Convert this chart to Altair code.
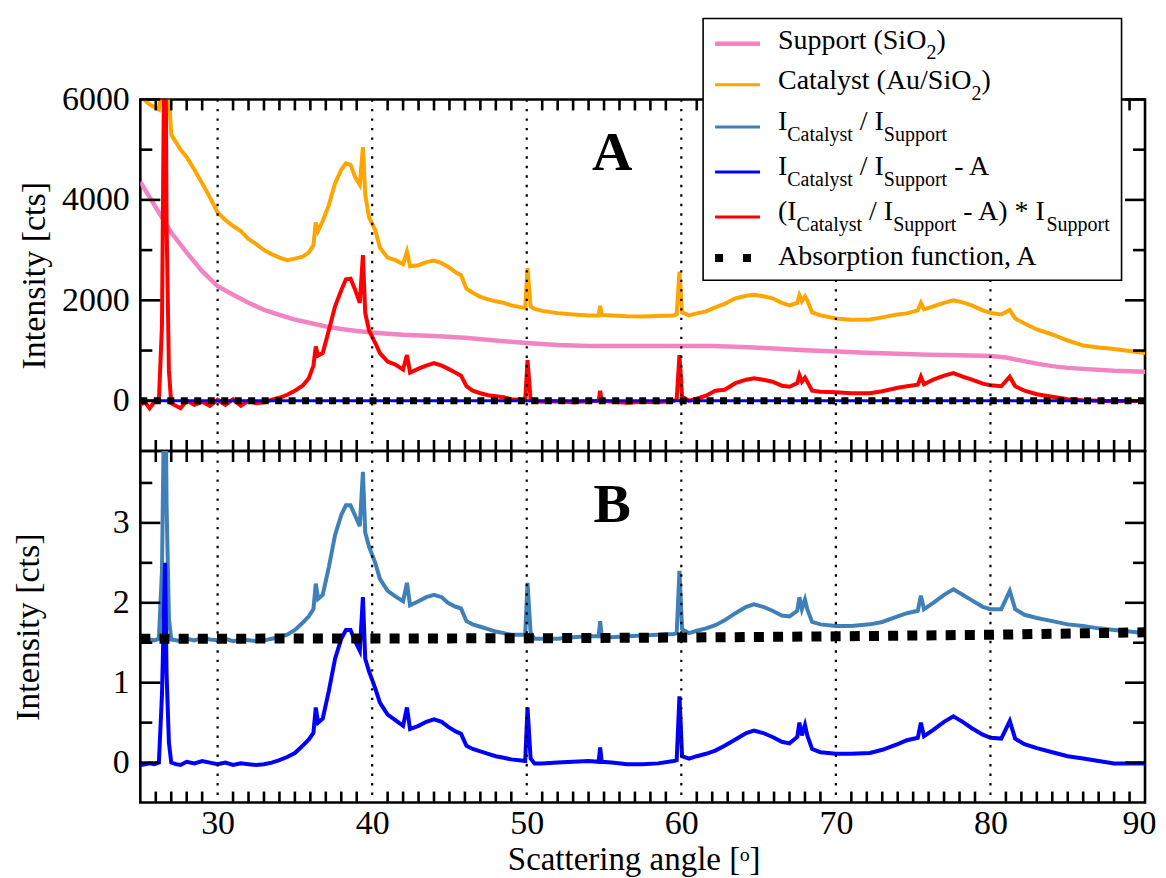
import altair as alt
import pandas as pd

# ---------------- data ----------------
angle = [25.0, 25.3, 25.6, 25.9, 26.2, 26.4, 26.6, 26.7, 26.85, 27.0,
         27.3, 27.6, 28.0, 28.5, 29.0, 29.5, 30.0, 30.5, 31.0, 31.5,
         32.0, 32.5, 33.0, 33.5, 34.0, 34.5, 35.0, 35.5, 35.9, 36.2,
         36.35, 36.5, 36.8, 37.2, 37.6, 38.0, 38.3, 38.6, 38.9, 39.2,
         39.4, 39.55, 39.8, 40.2, 40.5, 41.0, 41.5, 42.0, 42.25, 42.45,
         43.0, 43.5, 44.0, 44.5, 44.9, 45.4, 45.75, 46.1, 46.5, 47.0,
         47.5, 48.0, 48.5, 49.0, 49.5, 49.9, 50.05, 50.25, 50.5, 51.0,
         52.0, 53.0, 54.0, 54.65, 54.75, 54.85, 55.5, 56.5, 57.5, 58.5,
         59.5, 59.7, 59.88, 60.05, 60.5, 61.0, 61.6, 62.2, 62.8, 63.5,
         64.2, 64.7, 65.3, 65.9, 66.5, 67.0, 67.5, 67.64, 67.8, 68.0,
         68.15, 68.46, 69.0, 70.0, 71.0, 72.2, 73.0, 74.0, 74.6, 75.3,
         75.5, 75.7, 76.3, 77.0, 77.6, 78.2, 78.8, 79.5, 80.0, 80.7,
         81.25, 81.6, 82.2, 83.0, 84.0, 85.0, 86.0, 87.0, 88.0, 89.0,
         90.0]

catalyst = [6150, 5980, 5900, 5850, 5800, 6300, 9000, 7000, 6100, 5300,
            5150, 5000, 4850, 4600, 4330, 4050, 3750, 3600, 3480, 3380,
            3220, 3120, 3000, 2920, 2850, 2800, 2830, 2870, 2950, 3100,
            3550, 3380, 3580, 3900, 4330, 4600, 4730, 4700, 4450, 4300,
            5050, 4100, 3650, 3400, 3050, 2850, 2800, 2720, 2970, 2680,
            2700, 2760, 2790, 2740, 2670, 2560, 2500, 2230, 2150, 2070,
            2020, 1980, 1950, 1900, 1870, 1850, 2640, 1880, 1830, 1790,
            1745, 1720, 1700, 1700, 1890, 1710, 1700, 1685, 1680, 1690,
            1700, 1720, 2570, 1760, 1700, 1740, 1780, 1860, 1930, 2040,
            2090, 2110, 2080, 2040, 1950, 1900, 1950, 2100, 1980, 2080,
            2000, 1760, 1700, 1640, 1615, 1620, 1660, 1720, 1740, 1800,
            1950, 1820, 1880, 1950, 2000, 1960, 1900, 1800, 1750, 1720,
            1810, 1640, 1540, 1420, 1320, 1200, 1100, 1060, 1030, 990,
            950]

corrected = [-80, -30, -150, -20, 0, 1500, 9000, 3500, 600, -50,
             -100, -150, 0, -80, -20, -100, 20, -80, 30, -100,
             0, -50, -30, 20, 60, 120, 200, 300, 450, 700,
             1080, 900, 950, 1410, 1880, 2200, 2420, 2430, 2210, 1950,
             2900, 1750, 1400, 1150, 950, 780, 720, 620, 910, 560,
             640, 700, 750, 700, 640, 560, 500, 290, 200, 150,
             110, 90, 70, 30, 20, 10, 810, 20, -10, -20,
             -10, -30, -10, 0, 200, 0, -20, -40, -20, -30,
             0, 20, 910, 80, 0, 40, 100, 200, 220, 350,
             420, 450, 420, 380, 300, 280, 350, 510, 380, 460,
             380, 200, 180, 170, 150, 150, 190, 260, 290, 320,
             480, 330, 420, 500, 550, 480, 420, 340, 310, 290,
             480, 290, 200, 130, 80, 30, 10, 0, -10, 0,
             -10]

ratio = [1.53, 1.52, 1.54, 1.53, 1.55, 2.4, 5.5, 3.2, 1.8, 1.54,
         1.53, 1.52, 1.55, 1.53, 1.56, 1.54, 1.53, 1.55, 1.52, 1.54,
         1.53, 1.52, 1.53, 1.55, 1.57, 1.60, 1.66, 1.75, 1.83, 1.92,
         2.24, 2.05, 2.10, 2.45, 2.85, 3.10, 3.22, 3.22, 3.09, 2.96,
         3.64, 2.88, 2.70, 2.50, 2.30, 2.15, 2.08, 2.02, 2.25, 1.97,
         2.02, 2.07, 2.10, 2.07, 2.00, 1.95, 1.93, 1.77, 1.73, 1.70,
         1.67, 1.64, 1.62, 1.60, 1.60, 1.60, 2.25, 1.62, 1.55, 1.55,
         1.55, 1.57, 1.58, 1.58, 1.77, 1.58, 1.57, 1.58, 1.59, 1.60,
         1.61, 1.62, 2.40, 1.67, 1.62, 1.65, 1.68, 1.72, 1.78, 1.87,
         1.95, 1.98, 1.95, 1.90, 1.84, 1.83, 1.90, 2.07, 1.92, 2.04,
         1.92, 1.76, 1.73, 1.71, 1.71, 1.73, 1.76, 1.83, 1.87, 1.90,
         2.09, 1.92, 2.00, 2.10, 2.17, 2.10, 2.03, 1.95, 1.92, 1.92,
         2.15, 1.92, 1.85, 1.81, 1.77, 1.73, 1.71, 1.68, 1.66, 1.64,
         1.62]

ratio_minus_a = [-0.03, -0.02, -0.01, -0.02, 0.0, 0.85, 2.5, 1.1, 0.25, 0.0,
                 -0.02, -0.03, 0.01, -0.01, 0.02, 0.0, -0.02, 0.0, -0.03, -0.01,
                 -0.02, -0.03, -0.02, 0.0, 0.03, 0.07, 0.12, 0.21, 0.29, 0.37,
                 0.69, 0.50, 0.55, 0.90, 1.30, 1.55, 1.66, 1.66, 1.52, 1.40,
                 2.07, 1.30, 1.14, 0.93, 0.75, 0.60, 0.53, 0.46, 0.69, 0.42,
                 0.46, 0.51, 0.54, 0.51, 0.45, 0.39, 0.36, 0.21, 0.17, 0.14,
                 0.11, 0.08, 0.06, 0.04, 0.03, 0.02, 0.69, 0.05, -0.01, -0.01,
                 0.0, 0.01, 0.02, 0.01, 0.19, 0.01, 0.0, -0.02, -0.02, -0.01,
                 0.02, 0.03, 0.83, 0.08, 0.05, 0.08, 0.11, 0.15, 0.21, 0.29,
                 0.37, 0.40, 0.37, 0.32, 0.26, 0.24, 0.32, 0.50, 0.34, 0.47,
                 0.34, 0.17, 0.13, 0.11, 0.11, 0.12, 0.16, 0.23, 0.28, 0.31,
                 0.50, 0.33, 0.41, 0.51, 0.58, 0.51, 0.43, 0.35, 0.31, 0.30,
                 0.52, 0.30, 0.23, 0.18, 0.13, 0.08, 0.05, 0.02, -0.01, -0.01,
                 -0.01]

support_angle = [25, 26, 27, 28, 29, 30, 31, 32, 33, 34, 35, 36, 37, 38, 39, 40,
                 41, 42, 44, 46, 48, 50, 52, 54, 56, 58, 60, 62, 64, 66, 68, 70,
                 72, 74, 76, 78, 80, 81, 82, 83, 84, 85, 86, 88, 90]
support = [4360, 3850, 3350, 2950, 2580, 2280, 2110, 1950, 1810, 1710, 1615, 1550,
           1480, 1430, 1390, 1360, 1335, 1315, 1290, 1255, 1200, 1150, 1110, 1090,
           1090, 1092, 1092, 1090, 1070, 1040, 1005, 980, 955, 935, 915, 905, 893,
           860, 800, 740, 690, 655, 635, 600, 580]

absorption_angle = [25, 40, 50, 60, 70, 80, 90]
absorption = [1.55, 1.553, 1.556, 1.565, 1.58, 1.60, 1.63]

x_labels = [30, 40, 50, 60, 70, 80, 90]
grid_angles = [30, 40, 50, 60, 70, 80]
minor_angles = [d for d in range(26, 90) if d % 10 != 0]
a_major = [0, 2000, 4000, 6000]
a_minor = [1000, 3000, 5000]
b_major = [0, 1, 2, 3]
b_minor = [0.5, 1.5, 2.5, 3.5]

# ---------------- layout / style ----------------
W, H = 1006, 352
FONT = "Liberation Serif"
PINK, ORANGE, STEEL, BLUE, RED = "#f384c3", "#ffa500", "#3f80b9", "#0000ff", "#ff0000"
LW = 4.0

xscale = alt.Scale(domain=[25, 90], nice=False, zero=False)
ya_scale = alt.Scale(domain=[-1000, 6000], nice=False, zero=False)
yb_scale = alt.Scale(domain=[-0.5, 3.9], nice=False, zero=False)


def y_axis(values, title_x):
    return alt.Axis(values=values, format="d", ticks=False, tickSize=0, domain=False,
                    grid=False, labelFont=FONT, labelFontSize=34, labelColor="black",
                    labelPadding=11, labelFlush=False, labelOverlap=False,
                    title="Intensity [cts]", titleFont=FONT, titleFontSize=34,
                    titleFontWeight="normal", titleColor="black", titleX=title_x,
                    titleY=H / 2, titleAngle=270, titleAlign="center", titleBaseline="middle")


axis_a = y_axis(a_major, -106)
axis_b = y_axis(b_major, -112)
x_axis_b = alt.Axis(values=x_labels, format="d", ticks=False, tickSize=0, domain=False,
                    grid=False, labelFont=FONT, labelFontSize=34, labelColor="black",
                    labelBaseline="alphabetic", labelPadding=31, labelFlush=True,
                    labelFlushOffset=11, labelOverlap=False,
                    title="Scattering angle [ᵒ]", titleFont=FONT, titleFontSize=33,
                    titleFontWeight="normal", titleColor="black", titleX=494, titleY=67,
                    titleAlign="center", titleBaseline="alphabetic")

one = pd.DataFrame({"k": [0]})


def series_layer(xs, ys, color, width, yscale, yaxis, xaxis, dash=None):
    df = pd.DataFrame({"angle": xs, "v": ys})
    kw = dict(color=color, strokeWidth=width, clip=True, strokeCap="butt")
    if dash:
        kw["strokeDash"] = dash
    return alt.Chart(df).mark_line(**kw).encode(
        x=alt.X("angle:Q", scale=xscale, axis=xaxis),
        y=alt.Y("v:Q", scale=yscale, axis=yaxis),
    )


def frame_layers(yscale, yaxis, xaxis, major, minor):
    layers = []
    gdf = pd.DataFrame({"angle": grid_angles})
    layers.append(alt.Chart(gdf).mark_rule(color="black", strokeWidth=2.2,
                                           strokeDash=[2.4, 7.1]).encode(
        x=alt.X("angle:Q", scale=xscale, axis=xaxis), y=alt.value(0), y2=alt.value(H)))
    mdf = pd.DataFrame({"angle": minor_angles})
    for y0, y1 in [(0, 11), (H, H - 11)]:
        layers.append(alt.Chart(mdf).mark_rule(color="black", strokeWidth=2.6).encode(
            x=alt.X("angle:Q", scale=xscale, axis=xaxis), y=alt.value(y0), y2=alt.value(y1)))
    for vals, ln in [(major, 20), (minor, 12)]:
        vdf = pd.DataFrame({"v": vals})
        for x0, x1 in [(0, ln), (W, W - ln)]:
            layers.append(alt.Chart(vdf).mark_rule(color="black", strokeWidth=2.6).encode(
                y=alt.Y("v:Q", scale=yscale, axis=yaxis), x=alt.value(x0), x2=alt.value(x1)))
    return layers


def letter(txt):
    return alt.Chart(one).mark_text(font=FONT, fontSize=56, fontWeight="bold",
                                    align="center", baseline="alphabetic",
                                    color="black").encode(
        x=alt.value(472.5), y=alt.value(71), text=alt.value(txt))


# ---------------- legend (page coordinates shifted to panel A origin) ----------------
OX, OY = 139.5, 99
legend_layers = [alt.Chart(one).mark_rect(fill="white", stroke="black", strokeWidth=1.6).encode(
    x=alt.value(703 - OX), x2=alt.value(1122 - OX), y=alt.value(18 - OY), y2=alt.value(280 - OY))]
samples = [(PINK, 4.5, 43.3), (ORANGE, 3, 84.3), (STEEL, 3, 126.7), (BLUE, 3, 171.7),
           (RED, 3, 216.7)]
for col, wd, yy in samples:
    legend_layers.append(alt.Chart(one).mark_rule(color=col, strokeWidth=wd).encode(
        x=alt.value(715 - OX), x2=alt.value(760 - OX), y=alt.value(yy - OY)))
legend_layers.append(alt.Chart(one).mark_rule(color="black", strokeWidth=8,
                                              strokeDash=[8, 20]).encode(
    x=alt.value(715 - OX), x2=alt.value(752 - OX), y=alt.value(257.7 - OY)))

segments = [
    ("Support (SiO", 778, 48, 28), ("2", 926.6, 58, 20), (")", 936.6, 48, 28),
    ("Catalyst (Au/SiO", 778, 89, 28), ("2", 971.7, 100, 20), (")", 981.7, 89, 28),
    ("I", 778, 130, 28), ("Catalyst", 787.3, 141, 20), ("/ I", 859.9, 130, 28),
    ("Support", 884.0, 141, 20),
    ("I", 778, 175, 28), ("Catalyst", 787.3, 186, 20), ("/ I", 859.9, 175, 28),
    ("Support", 884.0, 186, 20), ("- A", 954.6, 175, 28),
    ("(I", 778, 220, 28), ("Catalyst", 796.6, 231, 20), ("/ I", 869.2, 220, 28),
    ("Support", 893.3, 231, 20), ("- A) * I", 963.6, 220, 28), ("Support", 1046.8, 231, 20),
    ("Absorption function, A", 778, 265, 28),
]
for txt, px, py, fs in segments:
    legend_layers.append(alt.Chart(one).mark_text(font=FONT, fontSize=fs, align="left",
                                                  baseline="alphabetic", color="black").encode(
        x=alt.value(px - OX), y=alt.value(py - OY), text=alt.value(txt)))

# ---------------- panel A ----------------
panel_a_layers = (
    [
        series_layer(support_angle, support, PINK, 4.5, ya_scale, axis_a, None),
        series_layer(angle, catalyst, ORANGE, LW, ya_scale, axis_a, None),
        series_layer(angle, corrected, RED, LW, ya_scale, axis_a, None),
        series_layer(angle, ratio_minus_a, BLUE, 3, ya_scale, axis_a, None),
        series_layer(absorption_angle, absorption, "black", 7, ya_scale, axis_a, None,
                     dash=[7, 6.5]),
    ]
    + frame_layers(ya_scale, axis_a, None, a_major, a_minor)
    + [letter("A")]
    + legend_layers
)
panel_a = alt.layer(*panel_a_layers).properties(width=W, height=H)

# ---------------- panel B ----------------
panel_b_layers = (
    [
        series_layer(angle, ratio, STEEL, LW, yb_scale, axis_b, x_axis_b),
        series_layer(angle, ratio_minus_a, BLUE, LW, yb_scale, axis_b, x_axis_b),
        series_layer(absorption_angle, absorption, "black", 10, yb_scale, axis_b, x_axis_b,
                     dash=[10, 9.2]),
    ]
    + frame_layers(yb_scale, axis_b, x_axis_b, b_major, b_minor)
    + [letter("B")]
)
panel_b = alt.layer(*panel_b_layers).properties(width=W, height=H)

chart = (
    alt.vconcat(panel_a, panel_b, spacing=0, bounds="flush")
    .properties(padding={"left": 1.5, "top": 7, "right": 0, "bottom": 0})
    .configure(font=FONT, background="white")
    .configure_view(stroke="black", strokeWidth=2.6)
    .configure_axis(labelFont=FONT, titleFont=FONT)
)

chart.save("out.html", embed_options={"renderer": "svg", "actions": False})
